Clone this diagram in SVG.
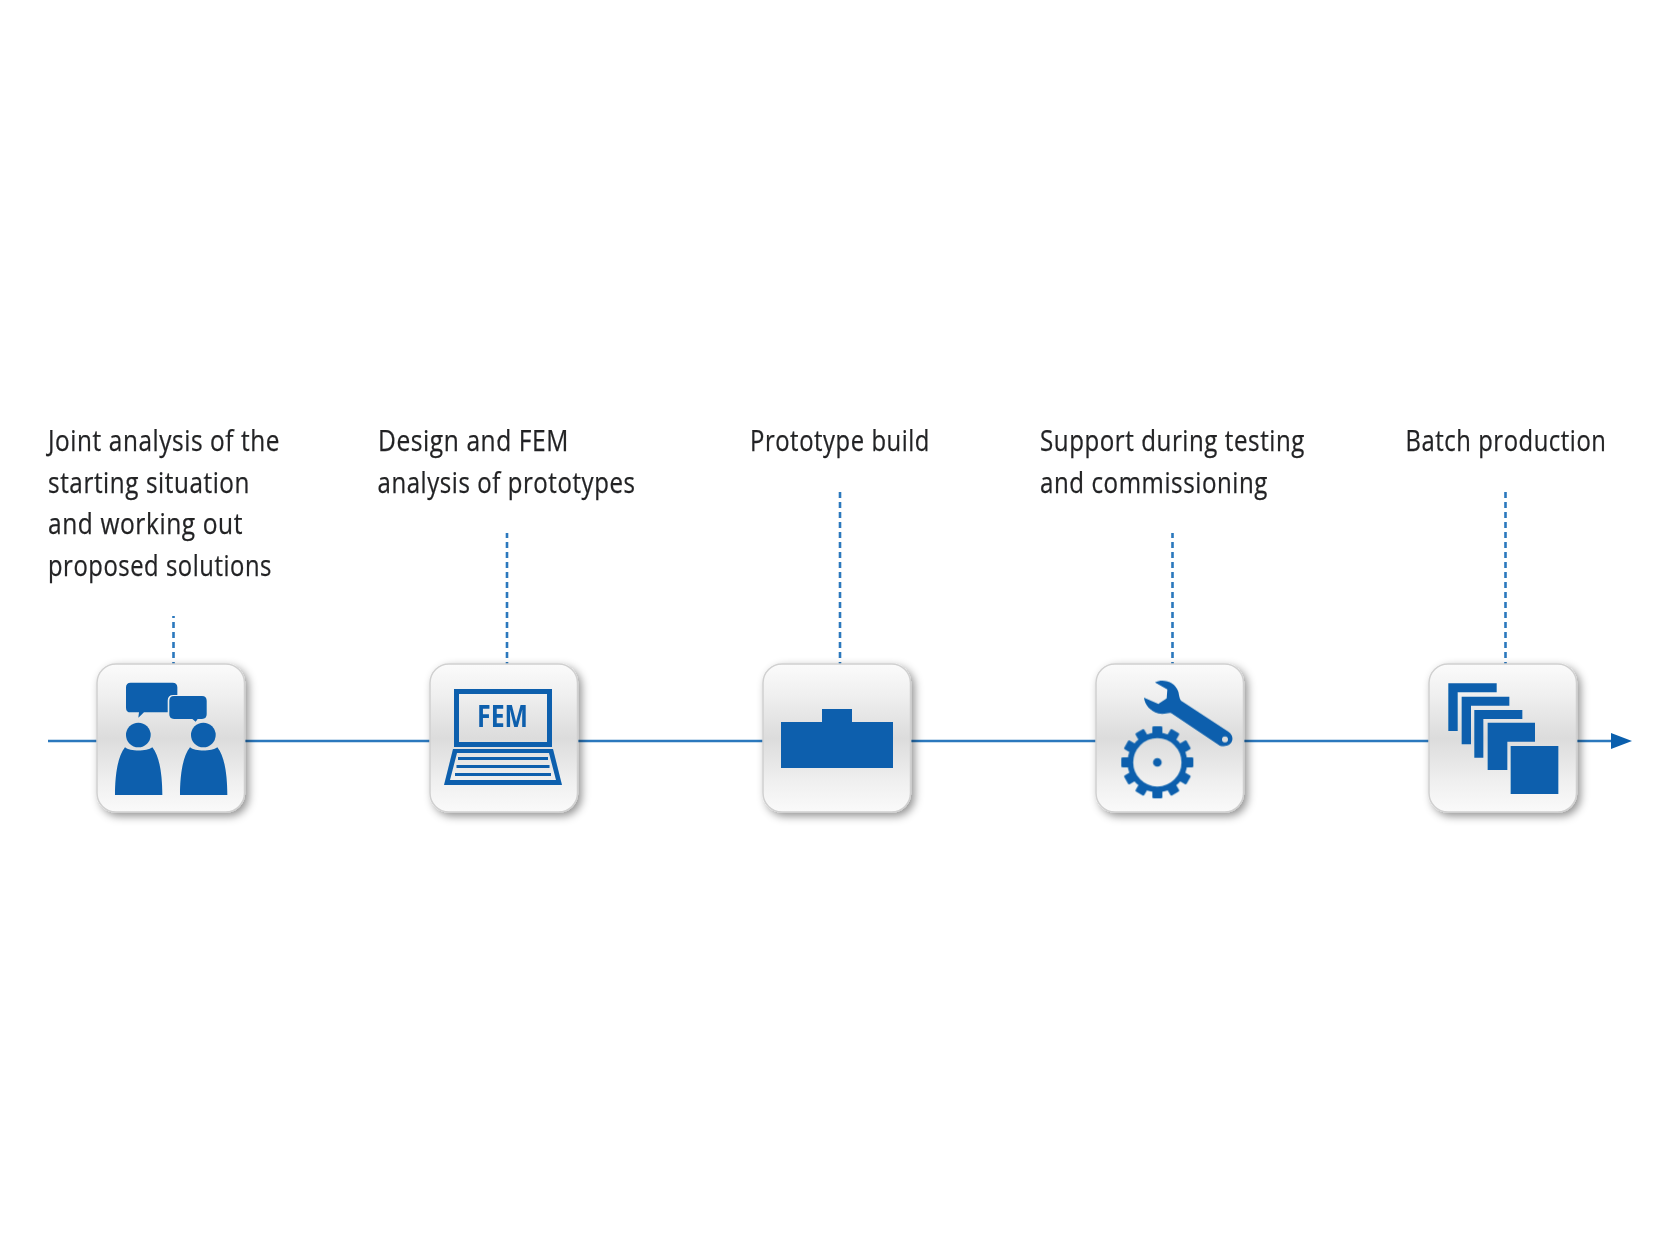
<svg xmlns="http://www.w3.org/2000/svg" xmlns:xlink="http://www.w3.org/1999/xlink" width="1680" height="1260" viewBox="0 0 1680 1260">
<style>
.lbl{font-family:"Open Sans","Noto Sans","Liberation Sans",sans-serif;font-size:29.5px;letter-spacing:.7px;fill:#232425;stroke:#232425;stroke-width:.25;filter:url(#soft)}
.ic{fill:#0a5fad;filter:url(#soft)}
.flow{stroke:#2b78bd;stroke-width:2.5;fill:none}
.dash{stroke:#2b78bd;stroke-width:2.6;stroke-dasharray:6 4;fill:none}
.box{fill:url(#bg);stroke:#d0d0d0;stroke-width:1.5;filter:url(#sh)}
.fem{font-family:"Open Sans","Noto Sans","Liberation Sans",sans-serif;font-size:30px;font-weight:700;fill:#0a5fad;filter:url(#soft)}
</style>
<defs>
<linearGradient id="bg" x1="0" y1="0" x2="0" y2="1">
<stop offset="0" stop-color="#fbfbfb"/><stop offset=".2" stop-color="#f0f0f0"/><stop offset=".5" stop-color="#dcdcdc"/><stop offset=".8" stop-color="#f0f0f0"/><stop offset="1" stop-color="#fafafa"/>
</linearGradient>
<filter id="sh" x="-15%" y="-15%" width="135%" height="135%"><feDropShadow dx="3.500" dy="3.500" stdDeviation="4" flood-color="#000" flood-opacity=".42"/></filter>
<filter id="soft" x="-5%" y="-20%" width="110%" height="140%"><feGaussianBlur stdDeviation=".45"/></filter>
<marker id="arr" markerUnits="userSpaceOnUse" markerWidth="22" markerHeight="16" refX="1" refY="8" orient="auto"><path d="M0 0L21 8L0 16Z" fill="#0a5fad"/></marker>
<rect id="tooth" x="-15" y="-108" width="30" height="30" rx="4"/>
</defs>
<rect width="1680" height="1260" fill="#fff"/>
<g id="connectors">
<path class="flow" d="M48 741H1612" marker-end="url(#arr)"/>
<path class="dash" d="M173.500 668V616"/>
<path class="dash" d="M507 668V533"/>
<path class="dash" d="M840 668V492"/>
<path class="dash" d="M1172.500 668V533"/>
<path class="dash" d="M1505.500 668V492"/>
</g>
<g id="node-1">
<rect class="box" x="97" y="664" width="147.500" height="148" rx="19"/>
<g class="ic" transform="translate(30 620) scale(.33333)">
<path d="M302 188H428Q442 188 442 202V225H430Q413 225 413 242V277H342L325 293L327 277H302Q288 277 288 263V202Q288 188 302 188Z"/>
<path d="M432 228H516Q530 228 530 242V283Q530 297 516 297H503L497 305L487 297H432Q418 297 418 283V242Q418 228 432 228Z"/>
<circle cx="325" cy="345" r="37"/><circle cx="520" cy="345" r="37"/>
<path d="M255 525C255 470 262 410 285 382C300 395 350 395 367 382C390 410 397 470 397 525Z"/>
<path d="M450 525C450 470 457 410 480 382C495 395 545 395 562 382C585 410 592 470 592 525Z"/>
</g>
<text class="lbl" x="48" y="451" textLength="232" lengthAdjust="spacingAndGlyphs">Joint analysis of the</text>
<text class="lbl" x="48" y="493" textLength="202" lengthAdjust="spacingAndGlyphs">starting situation</text>
<text class="lbl" x="48" y="534" textLength="195" lengthAdjust="spacingAndGlyphs">and working out</text>
<text class="lbl" x="48" y="575.500" textLength="224" lengthAdjust="spacingAndGlyphs">proposed solutions</text>
</g>
<g id="node-2">
<rect class="box" x="430" y="664" width="147.500" height="148" rx="19"/>
<path class="ic" fill-rule="evenodd" d="M454 689H552V747H454ZM459 694V742H547V694Z"/>
<path class="ic" fill-rule="evenodd" d="M453 749H553L562 785H444ZM457 753L450 780H556L549 753Z"/>
<path class="ic" d="M458 757H548V760H458ZM456.500 765H549.500V768H456.500ZM455 773H551V776H455Z"/>
<text class="fem" x="477" y="727" textLength="51" lengthAdjust="spacingAndGlyphs">FEM</text>
<text class="lbl" x="378" y="451" textLength="191" lengthAdjust="spacingAndGlyphs">Design and FEM</text>
<text class="lbl" x="377.500" y="493" textLength="258" lengthAdjust="spacingAndGlyphs">analysis of prototypes</text>
</g>
<g id="node-3">
<rect class="box" x="763" y="664" width="147.500" height="148" rx="19"/>
<path class="ic" d="M781 722H822V709H852V722H893V768H781Z"/>
<text class="lbl" x="750" y="451" textLength="180" lengthAdjust="spacingAndGlyphs">Prototype build</text>
</g>
<g id="node-4">
<rect class="box" x="1096" y="664" width="147.500" height="148" rx="19"/>
<g class="ic" transform="translate(1080 650) scale(.33333)">
<path fill-rule="evenodd" d="M225 97C250 85 285 95 295 125C298 138 298 145 303 152L445 245C465 258 460 285 435 288C428 290 420 288 415 284L275 190C265 185 255 195 235 190C210 183 195 165 192 143L235 162L260 145L262 118ZM435 259A9 9 0 1 0 435.010 277A9 9 0 1 0 435 259Z"/>
<g transform="translate(232 337)">
<circle r="81" fill="none" stroke="#0a5fad" stroke-width="17"/><circle r="13"/>
<use xlink:href="#tooth"/><use xlink:href="#tooth" transform="rotate(30)"/><use xlink:href="#tooth" transform="rotate(60)"/><use xlink:href="#tooth" transform="rotate(90)"/><use xlink:href="#tooth" transform="rotate(120)"/><use xlink:href="#tooth" transform="rotate(150)"/><use xlink:href="#tooth" transform="rotate(180)"/><use xlink:href="#tooth" transform="rotate(210)"/><use xlink:href="#tooth" transform="rotate(240)"/><use xlink:href="#tooth" transform="rotate(270)"/><use xlink:href="#tooth" transform="rotate(300)"/><use xlink:href="#tooth" transform="rotate(330)"/>
</g>
</g>
<text class="lbl" x="1040" y="451" textLength="265" lengthAdjust="spacingAndGlyphs">Support during testing</text>
<text class="lbl" x="1040" y="493" textLength="228" lengthAdjust="spacingAndGlyphs">and commissioning</text>
</g>
<g id="node-5">
<rect class="box" x="1429" y="664" width="147.500" height="148" rx="19"/>
<g class="ic" transform="translate(1410 650) scale(.33333)">
<path d="M115 100H260V127H143V243H115Z"/>
<path d="M155 140H298V167H183V283H155Z"/>
<path d="M193 180H337V207H220V323H193Z"/>
<path d="M233 218H375V275H292V360H233Z"/>
<rect x="302" y="288" width="143" height="144"/>
</g>
<text class="lbl" x="1405.500" y="451" textLength="201" lengthAdjust="spacingAndGlyphs">Batch production</text>
</g>
</svg>
